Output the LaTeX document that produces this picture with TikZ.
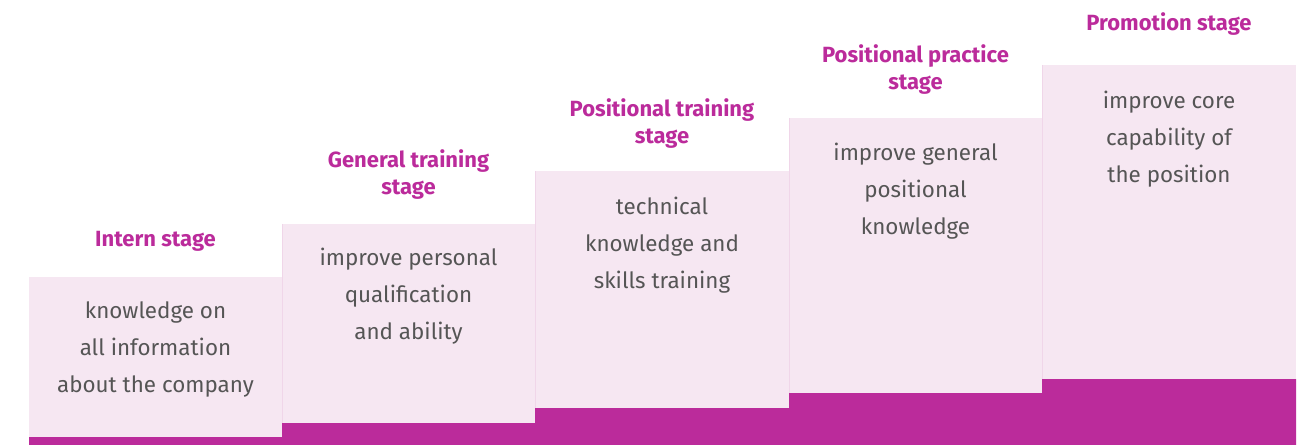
\documentclass[tikz,border=0pt]{standalone}
\usepackage{fontspec}
\setmainfont{Fira Sans}
\definecolor{stagepink}{HTML}{F6E7F2}
\definecolor{stageline}{HTML}{F0D6E9}
\definecolor{stagemag}{HTML}{BB2B9B}
\definecolor{stagegrey}{HTML}{555555}

\begin{document}
\begin{tikzpicture}[x=0.75pt,y=-0.75pt,
  stagetitle/.style={text=stagemag,font=\bfseries\fontsize{16.5}{20}\selectfont,align=center},
  stagebody/.style={text=stagegrey,font=\fontsize{16.8}{27.75}\selectfont,align=center}]
  \useasboundingbox (0,0) rectangle (1313,445);

  \fill[stagepink] (29,277) rectangle (282,437);           % Intern box
  \fill[stagepink] (282,224) rectangle (535,423);          % General training box
  \fill[stagepink] (535,171) rectangle (789,408);          % Positional training box
  \fill[stagepink] (789,118) rectangle (1042,393);         % Positional practice box
  \fill[stagepink] (1042,65) rectangle (1296,379);         % Promotion box

  \draw[stageline,line width=0.5pt] (282,224) -- (282,423);  % Box seam
  \draw[stageline,line width=0.5pt] (535,171) -- (535,408);  % Box seam
  \draw[stageline,line width=0.5pt] (789,118) -- (789,393);  % Box seam
  \draw[stageline,line width=0.5pt] (1042,65) -- (1042,379); % Box seam

  \fill[stagemag] (29,437) -- (282,437) -- (282,423) -- (535,423) -- (535,408)
     -- (789,408) -- (789,393) -- (1042,393) -- (1042,379) -- (1296,379)
     -- (1296,445) -- (29,445) -- cycle;                   % Stairs at the bottom

  \node[stagetitle] (intern) at (155.5,241) {Intern stage};                 % Titles
  \node[stagetitle] (general) at (408.5,174.5) {General training\\stage};
  \node[stagetitle] (training) at (662,123.5) {Positional training\\stage};
  \node[stagetitle] (practice) at (915.5,69.5) {Positional practice\\stage};
  \node[stagetitle] (promotion) at (1169,24) {Promotion stage};

  \node[stagebody] (internText) at (155.5,349.5) {knowledge on\\all information\\about the company};   % Box texts
  \node[stagebody] (generalText) at (408.5,296.5) {improve personal\\qualification\\and ability};
  \node[stagebody] (trainingText) at (662,245.5) {technical\\knowledge and\\skills training};
  \node[stagebody] (practiceText) at (915.5,191.5) {improve general\\positional\\knowledge};
  \node[stagebody] (promotionText) at (1169,139.5) {improve core\\capability of\\the position};
\end{tikzpicture}
\end{document}
